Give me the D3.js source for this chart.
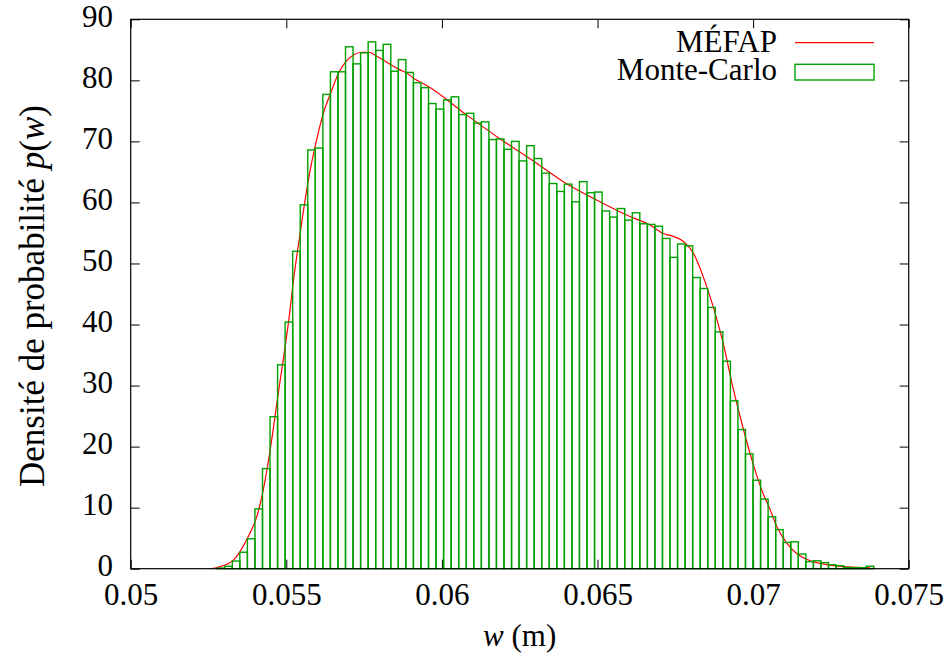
<!DOCTYPE html>
<html><head><meta charset="utf-8">
<script src="https://cdn.jsdelivr.net/npm/d3@7"></script>
<style>
body{margin:0;background:#fff}
text{font-family:"Liberation Serif","Times New Roman",serif;fill:#000}
</style>
</head><body>
<svg id="c" width="950" height="657"></svg>
<script>
// ---- data ----
const binStart = 0.05278;     // left edge of first histogram bin (m)
const binWidth = 0.0002425;   // histogram bin width (m)
const mcDensity = [
  0.1, 0.4, 1.25, 2.7, 4.9, 9.8, 16.4, 24.9, 33.4, 40.4,
  52.0, 59.6, 68.6, 68.9, 77.7, 81.4, 81.4, 85.5, 82.7, 84.5,
  86.3, 84.9, 85.9, 81.5, 83.4, 81.3, 79.6, 78.8, 76.2, 75.3,
  76.8, 77.3, 74.4, 74.6, 73.0, 73.2, 70.3, 70.4, 68.7, 70.0,
  66.8, 69.3, 67.2, 64.8, 63.1, 61.8, 63.0, 60.1, 63.4, 61.6,
  61.7, 58.6, 57.6, 59.0, 57.1, 58.3, 56.5, 56.4, 56.1, 54.1,
  51.0, 53.2, 52.9, 47.7, 45.9, 42.8, 38.8, 34.0, 27.5, 22.8,
  18.8, 14.5, 11.4, 8.5, 6.4, 4.3, 4.4, 2.4, 1.15, 1.3,
  1.0, 0.65, 0.5, 0.2, 0.15, 0.15, 0.4
];
const mefapX = [0.0526, 0.05278, 0.05330, 0.05351, 0.05383, 0.05405, 0.05426, 0.05448, 0.05471,
  0.05512, 0.05522, 0.05546, 0.05571, 0.05595, 0.05619, 0.05644, 0.05668, 0.05692, 0.05717,
  0.05741, 0.05765, 0.05789, 0.05813, 0.05837, 0.05862, 0.05887, 0.05910, 0.05935, 0.05959,
  0.06080, 0.06187, 0.06294, 0.06390, 0.06497, 0.06604, 0.06669, 0.06711, 0.06733, 0.06776,
  0.06808, 0.06840, 0.06872, 0.06904, 0.06936, 0.06969, 0.07001, 0.07033, 0.07054, 0.07076,
  0.07108, 0.07140, 0.07193, 0.07247, 0.07301, 0.07376];
const mefapY = [0.0, 0.2, 1.4, 2.8, 5.8, 8.5, 12.9, 19.4, 27.6,
  42.4, 46.8, 55.5, 63.7, 69.7, 74.6, 78.1, 81.2, 83.1, 84.2,
  84.6, 84.6, 84.0, 83.3, 82.5, 81.8, 81.2, 80.3, 79.6, 78.9,
  74.3, 70.4, 66.8, 63.4, 60.4, 57.7, 56.3, 54.9, 54.6, 53.6,
  51.7, 47.8, 42.9, 36.9, 29.5, 22.8, 17.0, 12.2, 9.8, 6.9,
  4.2, 2.5, 1.15, 0.6, 0.3, 0.15];
const xTicks = [0.05, 0.055, 0.06, 0.065, 0.07, 0.075];
const xTickLabels = ["0.05", "0.055", "0.06", "0.065", "0.07", "0.075"];
const yTicks = [0, 10, 20, 30, 40, 50, 60, 70, 80, 90];
const seriesNames = ["MÉFAP", "Monte-Carlo"];

// ---- layout ----
const FS = 31;
const M = {l: 130.7, r: 908.7, t: 19.3, b: 568.7};
const RED = "#ff0000", GREEN = "#00a000";
const svg = d3.select("#c");
const x = d3.scaleLinear().domain([0.05, 0.075]).range([M.l, M.r]);
const y = d3.scaleLinear().domain([0, 90]).range([M.b, M.t]);

// axes (ticks inward, mirrored)
const gB = svg.append("g").attr("transform", `translate(0,${M.b})`)
  .call(d3.axisBottom(x).tickValues(xTicks).tickFormat((d, i) => xTickLabels[i]).tickSize(-9).tickPadding(14));
const gT = svg.append("g").attr("transform", `translate(0,${M.t})`)
  .call(d3.axisTop(x).tickValues(xTicks).tickFormat("").tickSize(-9));
const gL = svg.append("g").attr("transform", `translate(${M.l},0)`)
  .call(d3.axisLeft(y).tickValues(yTicks).tickFormat(d3.format("d")).tickSize(-9).tickPadding(17.7));
const gR = svg.append("g").attr("transform", `translate(${M.r},0)`)
  .call(d3.axisRight(y).tickValues(yTicks).tickFormat("").tickSize(-9));
[gB, gT, gL, gR].forEach(g => {
  g.select(".domain").remove();
  g.selectAll(".tick line").attr("stroke", "#000").attr("stroke-width", 1);
  g.selectAll(".tick text").attr("font-size", FS).attr("font-family", '"Liberation Serif",serif').attr("fill", "#000");
});
gL.selectAll(".tick text").attr("dy", "0.22em");

// MÉFAP curve
const curvePts = mefapX.map((v, i) => [v, mefapY[i]]);
svg.append("path").datum(curvePts)
  .attr("fill", "none").attr("stroke", RED).attr("stroke-width", 1.2)
  .attr("d", d3.line().x(d => x(d[0])).y(d => y(d[1])).curve(d3.curveMonotoneX));

// Monte-Carlo histogram
svg.append("g").selectAll("rect").data(mcDensity).join("rect")
  .attr("x", (d, i) => x(binStart + i * binWidth))
  .attr("width", (d, i) => x(binStart + (i + 1) * binWidth) - x(binStart + i * binWidth))
  .attr("y", d => y(d))
  .attr("height", d => y(0) - y(d))
  .attr("fill", "none").attr("stroke", GREEN).attr("stroke-width", 1.4);

// frame
svg.append("rect").attr("x", M.l).attr("y", M.t).attr("width", M.r - M.l).attr("height", M.b - M.t)
  .attr("fill", "none").attr("stroke", "#000").attr("stroke-width", 1.2);

// legend
const lg = svg.append("g");
lg.append("text").attr("x", 777).attr("y", 51.7).attr("text-anchor", "end").attr("font-size", FS).text(seriesNames[0]);
lg.append("line").attr("x1", 795).attr("x2", 874).attr("y1", 42.7).attr("y2", 42.7).attr("stroke", RED).attr("stroke-width", 1.2);
lg.append("text").attr("x", 777).attr("y", 80).attr("text-anchor", "end").attr("font-size", FS).text(seriesNames[1]);
lg.append("rect").attr("x", 795).attr("y", 64.3).attr("width", 79).attr("height", 15.7)
  .attr("fill", "none").attr("stroke", GREEN).attr("stroke-width", 1.4);

// axis titles
const yl = svg.append("text").attr("transform", `translate(44,${(M.t + M.b) / 2 + 2}) rotate(-90)`)
  .attr("text-anchor", "middle").attr("font-size", 35);
yl.append("tspan").text("Densité de probabilité ");
yl.append("tspan").attr("font-style", "italic").text("p");
yl.append("tspan").text("(");
yl.append("tspan").attr("font-style", "italic").text("w");
yl.append("tspan").text(")");

const xl = svg.append("text").attr("x", (M.l + M.r) / 2).attr("y", 646)
  .attr("text-anchor", "middle").attr("font-size", FS);
xl.append("tspan").attr("font-style", "italic").text("w");
xl.append("tspan").text(" (m)");
</script>
</body></html>
